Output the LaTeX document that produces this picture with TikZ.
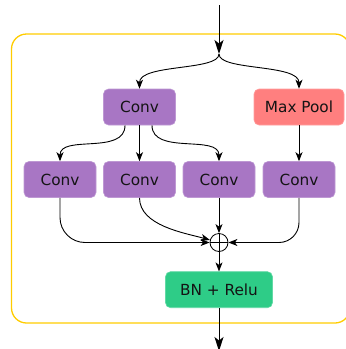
\documentclass[tikz,border=0pt]{standalone}
\usepackage{fontspec}
\setmainfont{DejaVu Sans}
\usetikzlibrary{arrows.meta}
\definecolor{convpurple}{RGB}{168,118,196}
\definecolor{poolred}{RGB}{255,127,127}
\definecolor{bngreen}{RGB}{46,204,135}
\definecolor{frameyellow}{RGB}{255,204,0}
\definecolor{labelink}{RGB}{20,20,20}
\tikzset{
  block/.style={rectangle, rounded corners=5pt, minimum height=36pt,
    inner sep=0pt, text=labelink, font=\fontsize{15.3pt}{17pt}\selectfont,
    line width=0.6pt},
  convbox/.style={block, fill=convpurple, draw=convpurple!75!white, minimum width=72pt},
  poolbox/.style={block, fill=poolred, draw=poolred!75!white, minimum width=90pt},
  bnbox/.style={block, fill=bngreen, draw=bngreen!75!white, minimum width=107pt},
  sumnode/.style={circle, draw, line width=0.8pt, minimum size=18pt, inner sep=0pt,
    path picture={
      \draw[line width=0.8pt] (path picture bounding box.north) -- (path picture bounding box.south);
      \draw[line width=0.8pt] (path picture bounding box.west) -- (path picture bounding box.east);}},
  flow/.style={line width=0.9pt, -{Stealth[length=9pt,width=7pt,inset=2.5pt]}},
  mainflow/.style={line width=1pt, -{Stealth[length=14pt,width=9pt,inset=3.5pt]}},
  frame/.style={draw=frameyellow, line width=1.3pt, rounded corners=15pt}
}
\begin{document}
\begin{tikzpicture}[x=1pt,y=-1pt]
\useasboundingbox (0,0) rectangle (346,349);

% enclosing block
\draw[frame] (11.5,34) rectangle (350,323);

% input and split point
\coordinate (in) at (219,5);
\coordinate (split) at (219,54);
\coordinate (out) at (219,351);

% first stage
\node[convbox] (conv0) at (139.5,107) {Conv};
\node[poolbox] (pool) at (299,107) {Max Pool};

% second stage
\node[convbox] (conv1) at (60,179.5) {Conv};
\node[convbox] (conv2) at (139.5,179.5) {Conv};
\node[convbox] (conv3) at (219,179.5) {Conv};
\node[convbox] (conv4) at (299,179.5) {Conv};

% merge and output
\node[sumnode] (sum) at (219,242.5) {};
\node[bnbox] (bn) at (219,289.7) {BN + Relu};

% input edge
\draw[mainflow] (in) -- (split);

% split into the two branches
\draw[flow] (split) .. controls +(0,17) and +(0,-25) .. (conv0.north);
\draw[flow] (split) .. controls +(0,17) and +(0,-25) .. (pool.north);

% fan-out of the first convolution
\draw[flow] ([xshift=-14.5pt]conv0.south) .. controls +(0,30) and +(0,-27) .. (conv1.north);
\draw[flow] (conv0.south) -- (conv2.north);
\draw[flow] ([xshift=12.5pt]conv0.south) .. controls +(0,30) and +(0,-27) .. (conv3.north);
\draw[flow] (pool.south) -- (conv4.north);

% merge into the sum
\draw[flow, rounded corners=25pt] (conv1.south) |- (sum.west);
\draw[flow] (conv2.south) .. controls +(0,28) and (185,233) .. (sum);
\draw[flow] (conv3.south) -- (sum.north);
\draw[flow, rounded corners=20pt] (conv4.south) |- (sum.east);

% output
\draw[flow] (sum.south) -- (bn.north);
\draw[mainflow] (bn.south) -- (out);
\end{tikzpicture}
\end{document}
